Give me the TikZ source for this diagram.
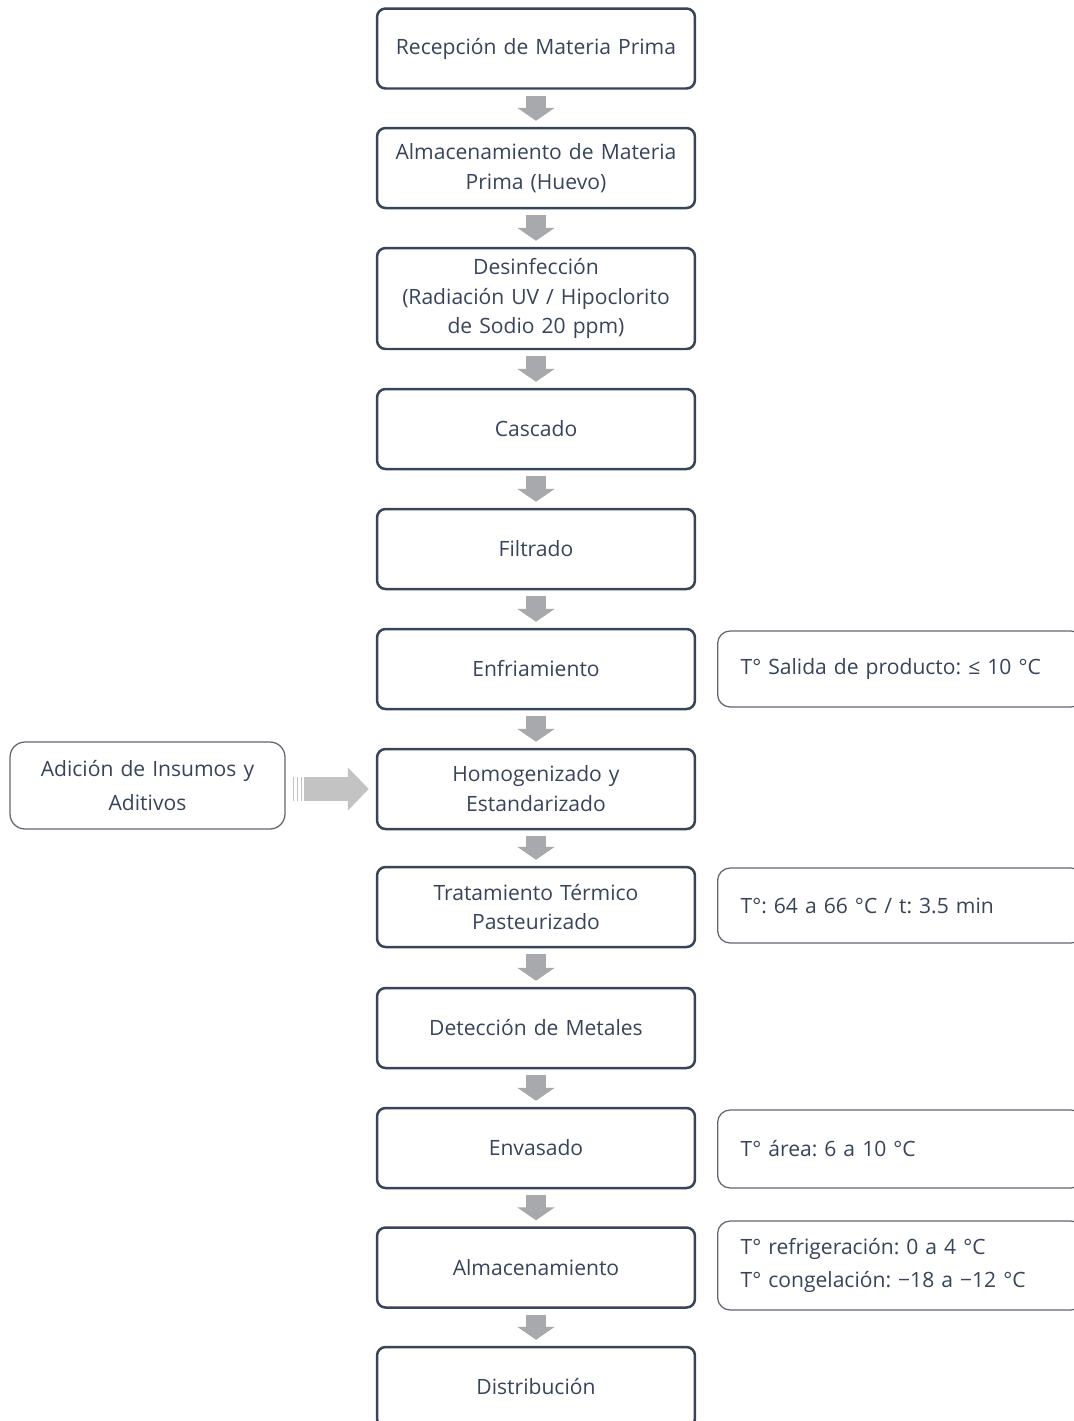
\documentclass[tikz,border=0pt]{standalone}
\usepackage{fontspec}
\setmainfont{Open Sans}
\frenchspacing
\usetikzlibrary{arrows.meta}
\definecolor{pizarra}{HTML}{37445A}
\definecolor{flechagris}{HTML}{A7A9AC}
\definecolor{flechaclara}{HTML}{C3C3C3}
\definecolor{bordegris}{HTML}{5F6670}

\begin{document}
\begin{tikzpicture}[x=0.02cm,y=-0.02cm,
  paso/.style={draw=pizarra,line width=0.05cm,rounded corners=0.17cm,
    minimum width=6.36cm,minimum height=1.6cm,text width=5.9cm,align=center,
    text=pizarra,font=\fontsize{12}{17}\selectfont},
  nota/.style={draw=bordegris,line width=0.025cm,rounded corners=0.25cm,
    anchor=west,text width=6.4cm,inner xsep=0.46cm,align=left,
    text=pizarra,font=\fontsize{12}{18.5}\selectfont},
  flecha/.style={flechagris,line width=0.4cm,shorten <=0.12cm,shorten >=0.12cm,
    -{Triangle[width=0.74cm,length=0.26cm]}}]
\useasboundingbox (0,0) rectangle (1073,1421);

% etapas del proceso
\node[paso] (recepcion) at (536,48.5) {Recepción de Materia Prima};
\node[paso] (almacenMP) at (536,168) {Almacenamiento de Materia\\Prima (Huevo)};
\node[paso,minimum height=2.02cm] (desinfeccion) at (536,298.5) {Desinfección\\(Radiación UV / Hipoclorito\\de Sodio 20 ppm)};
\node[paso] (cascado) at (536,429) {Cascado};
\node[paso] (filtrado) at (536,549) {Filtrado};
\node[paso] (enfriamiento) at (536,669) {Enfriamiento};
\node[paso] (homogenizado) at (536,789) {Homogenizado y\\Estandarizado};
\node[paso] (tratamiento) at (536,907) {Tratamiento Térmico\\Pasteurizado};
\node[paso] (deteccion) at (536,1028) {Detección de Metales};
\node[paso] (envasado) at (536,1148) {Envasado};
\node[paso] (almacenamiento) at (536,1267.5) {Almacenamiento};
\node[paso] (distribucion) at (536,1387) {Distribución};

\foreach \a/\b in {recepcion/almacenMP,almacenMP/desinfeccion,desinfeccion/cascado,
  cascado/filtrado,filtrado/enfriamiento,enfriamiento/homogenizado,
  homogenizado/tratamiento,tratamiento/deteccion,deteccion/envasado,
  envasado/almacenamiento,almacenamiento/distribucion}
  \draw[flecha] (\a) -- (\b);

% condiciones
\node[nota,minimum height=1.52cm] (tSalida) at (717,669) {T° Salida de producto: ≤ 10 °C};
\node[nota,minimum height=1.5cm] (tPasteur) at (717,905.5) {T°: 64 a 66 °C / t: 3.5 min};
\node[nota,minimum height=1.56cm] (tArea) at (717,1149) {T° área: 6 a 10 °C};
\node[nota,minimum height=1.78cm] (tAlmacen) at (717,1265.5) {T° refrigeración: 0 a 4 °C\\T° congelación: −18 a −12 °C};

% insumos
\node[draw=bordegris,line width=0.025cm,rounded corners=0.3cm,minimum width=5.5cm,
  minimum height=1.74cm,text width=5cm,align=center,text=pizarra,
  font=\fontsize{12}{19}\selectfont] (insumos) at (147.5,785.5) {Adición de Insumos y\\Aditivos};
\draw[flechaclara,line width=0.48cm,shorten <=0.36cm,shorten >=0.14cm,
  -{Triangle[width=0.84cm,length=0.42cm]}] (insumos.east |- homogenizado) -- (homogenizado.west);
\foreach \x in {8,12,16}
  \draw[flechaclara,line width=0.025cm] ([xshift=\x*0.02cm,yshift=0.24cm]insumos.east |- homogenizado) -- ++(0,-0.48cm);
\end{tikzpicture}
\end{document}
